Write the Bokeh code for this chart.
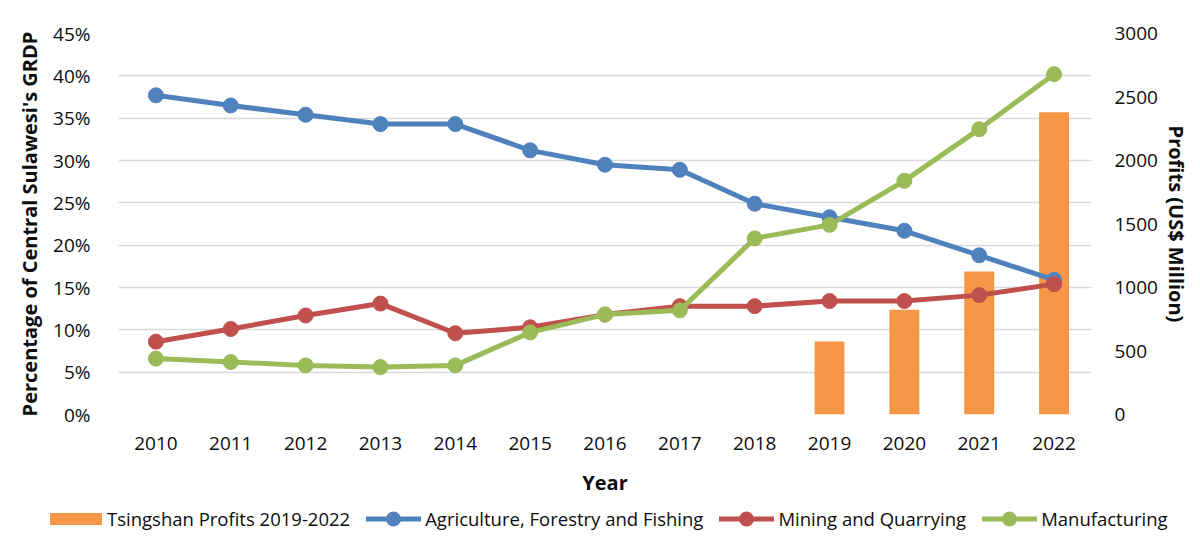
from bokeh.plotting import figure
from bokeh.models import (Range1d, LinearAxis, FixedTicker, PrintfTickFormatter,
                          FactorRange, Div)
from bokeh.layouts import column
from bokeh.embed import file_html
from bokeh.resources import INLINE

# ---- data ----
years = [str(y) for y in range(2010, 2023)]
agriculture = [37.7, 36.5, 35.4, 34.3, 34.3, 31.2, 29.5, 28.9, 24.9, 23.3, 21.7, 18.8, 15.9]
mining = [8.6, 10.1, 11.7, 13.1, 9.6, 10.3, 11.8, 12.8, 12.8, 13.4, 13.4, 14.1, 15.4]
manufacturing = [6.6, 6.2, 5.8, 5.6, 5.8, 9.7, 11.8, 12.3, 20.8, 22.4, 27.6, 33.7, 40.2]
profit_years = ["2019", "2020", "2021", "2022"]
profits = [575, 824, 1126, 2380]
left_ticks = [0, 5, 10, 15, 20, 25, 30, 35, 40, 45]
right_ticks = [0, 500, 1000, 1500, 2000, 2500, 3000]
series_names = ["Tsingshan Profits 2019-2022", "Agriculture, Forestry and Fishing",
                "Mining and Quarrying", "Manufacturing"]

FONT = "Open Sans"
TXT = "#0d0d0d"
BLUE, RED, GREEN, ORANGE = "#4F81BD", "#C0504D", "#9BBB59", "#F79646"

p = figure(width=1192, height=500, x_range=FactorRange(*years),
           y_range=Range1d(0, 45), output_backend="svg", toolbar_location=None,
           min_border_left=118, min_border_right=91, min_border_top=33,
           min_border_bottom=86)
p.extra_y_ranges = {"right": Range1d(0, 3000)}
p.outline_line_color = None
p.background_fill_color = "white"
p.border_fill_color = "white"

p.vbar(x=profit_years, top=profits, width=0.4, y_range_name="right",
       fill_color=ORANGE, line_color=None)

for vals, color in [(agriculture, BLUE), (mining, RED), (manufacturing, GREEN)]:
    p.line(years, vals, line_width=5, color=color, line_join="round")
    p.scatter(years, vals, size=15, color=color)

# axes
p.yaxis.ticker = FixedTicker(ticks=left_ticks)
p.yaxis.formatter = PrintfTickFormatter(format="%d%%")
p.yaxis.axis_label = "Percentage of Central Sulawesi's GRDP"
p.yaxis.major_label_standoff = 22
p.yaxis.axis_label_standoff = 7

right = LinearAxis(y_range_name="right", ticker=FixedTicker(ticks=right_ticks),
                   axis_label="Profits (US$ Million)")
right.major_label_standoff = 17
right.axis_label_standoff = 2
p.add_layout(right, "right")

p.xaxis.axis_label = "Year"
p.xaxis.major_label_standoff = 16
p.xaxis.axis_label_standoff = 16

for ax in [p.yaxis[0], right, p.xaxis[0]]:
    ax.axis_line_color = None
    ax.major_tick_line_color = None
    ax.minor_tick_line_color = None
    ax.major_label_text_font = FONT
    ax.major_label_text_font_size = "19px"
    ax.major_label_text_color = TXT
    ax.axis_label_text_font = FONT
    ax.axis_label_text_font_size = "20px"
    ax.axis_label_text_font_style = "bold"
    ax.axis_label_text_color = TXT

p.xgrid.grid_line_color = None
p.ygrid.grid_line_color = "#d9d9d9"
p.ygrid.grid_line_width = 1.5

# ---- legend strip (HTML keys + real text) ----
def line_key(color):
    return ('<svg width="55" height="16" style="margin-left:16px;margin-right:4px;flex:none">'
            f'<line x1="0" y1="8" x2="55" y2="8" stroke="{color}" stroke-width="5"/>'
            f'<circle cx="27.5" cy="8" r="7.5" fill="{color}"/></svg>')

parts = [f'<span style="display:inline-block;width:52px;height:12px;background:{ORANGE};'
         f'margin-right:5px;flex:none"></span><span>{series_names[0]}</span>']
for name, color in zip(series_names[1:], [BLUE, RED, GREEN]):
    parts.append(line_key(color) + f'<span>{name}</span>')

html = (f'<div style="display:flex;align-items:center;height:38px;padding-left:50px;'
        f'font-family:\'{FONT}\';font-size:18.5px;color:{TXT};white-space:nowrap;">'
        + "".join(parts) + '</div>')
legend_div = Div(text=html, width=1192, height=38, styles={"margin": "0", "padding": "0"})

layout = column(p, legend_div, spacing=0)
open("out.html", "w").write(file_html(layout, INLINE))
